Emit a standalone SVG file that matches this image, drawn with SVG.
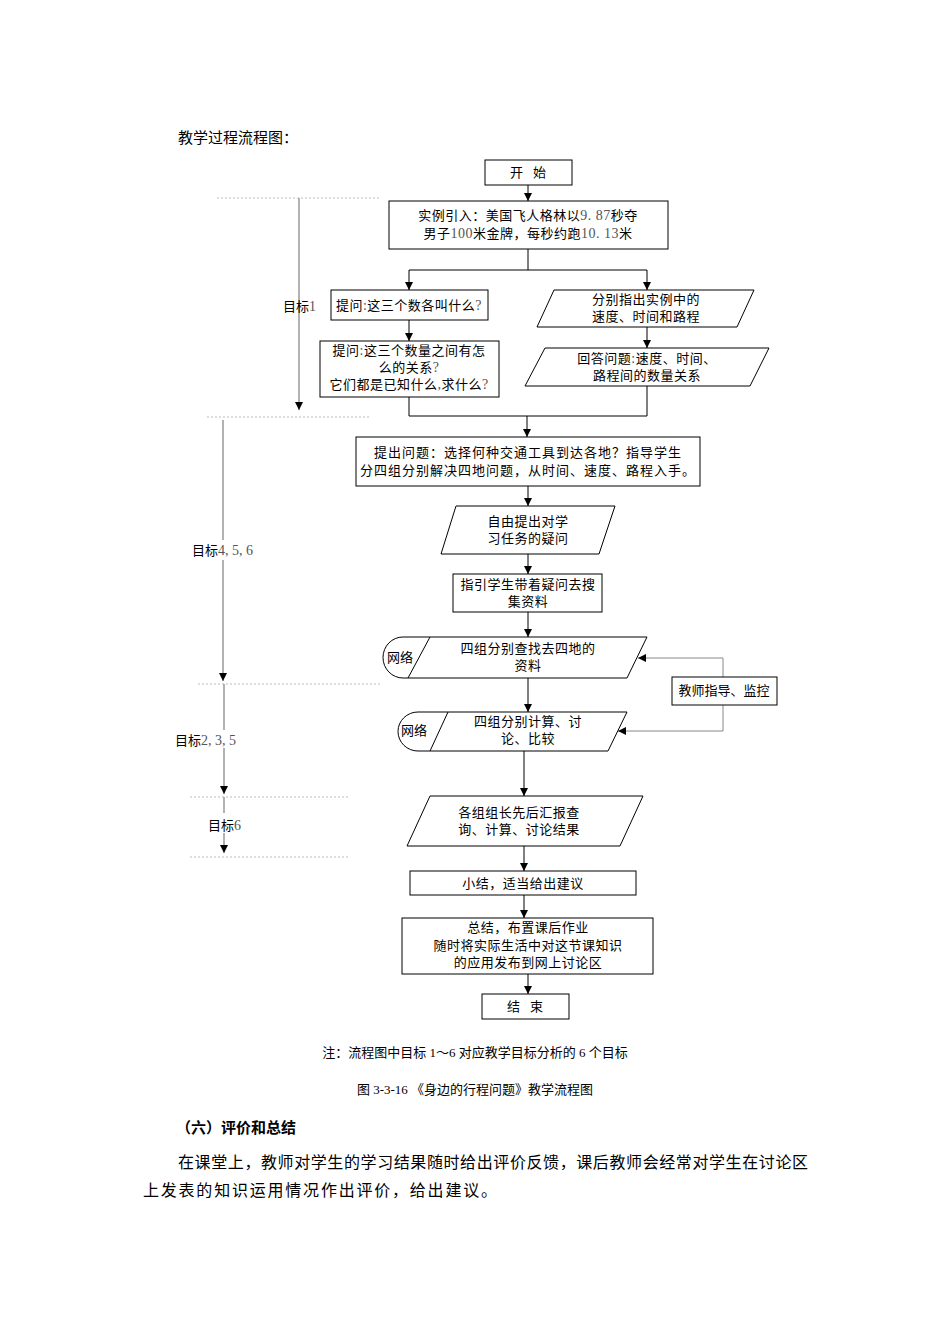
<svg xmlns="http://www.w3.org/2000/svg" width="950" height="1344" viewBox="0 0 950 1344">
<defs>
<marker id="ah" viewBox="0 0 10 10" refX="10" refY="5" markerWidth="8" markerHeight="8" markerUnits="userSpaceOnUse" orient="auto">
<path d="M0,0 L10,5 L0,10 Z" fill="#000"/>
</marker>
<style>
.n{fill:#fff;stroke:#000;stroke-width:1}
.t{font-family:"Noto Sans CJK SC","Liberation Sans",sans-serif;font-size:13px;fill:#000;text-anchor:middle}
.d{font-family:"Liberation Serif",serif;fill:#555;font-size:14px}
.c{fill:none;stroke:#000;stroke-width:1}
.g{fill:none;stroke:#999;stroke-width:1.5}
.dot{fill:none;stroke:#bbb;stroke-width:1;stroke-dasharray:2,2}
.lbl{font-family:"Noto Sans CJK SC","Liberation Sans",sans-serif;font-size:13px;fill:#000}
.body{font-family:"Liberation Serif","Noto Sans CJK SC",serif;fill:#000}
</style>
</defs>
<rect width="950" height="1344" fill="#fff"/>

<text x="178" y="143" class="body" style="font-family:'Noto Sans CJK SC',sans-serif;font-size:15px">教学过程流程图：</text>

<g id="timeline">
<line class="dot" x1="217" y1="198" x2="380" y2="198"/>
<line class="g" x1="299" y1="198" x2="299" y2="410" marker-end="url(#ah)"/>
<text class="lbl" x="283" y="311">目标<tspan class="d">1</tspan></text>
<line class="dot" x1="207" y1="417" x2="370" y2="417"/>
<line class="g" x1="223" y1="420" x2="223" y2="540"/>
<line class="g" x1="223" y1="560" x2="223" y2="681" marker-end="url(#ah)"/>
<text class="lbl" x="192" y="555">目标<tspan class="d">4, 5, 6</tspan></text>
<line class="dot" x1="198" y1="684" x2="380" y2="684"/>
<line class="g" x1="224" y1="684" x2="224" y2="730"/>
<line class="g" x1="224" y1="748" x2="224" y2="794" marker-end="url(#ah)"/>
<text class="lbl" x="175" y="745">目标<tspan class="d">2, 3, 5</tspan></text>
<line class="dot" x1="190" y1="797" x2="350" y2="797"/>
<line class="g" x1="224" y1="797" x2="224" y2="813"/>
<line class="g" x1="224" y1="833" x2="224" y2="853" marker-end="url(#ah)"/>
<text class="lbl" x="208" y="830">目标<tspan class="d">6</tspan></text>
<line class="dot" x1="190" y1="857" x2="350" y2="857"/>
</g>

<g id="connectors">
<line class="c" x1="528" y1="185" x2="528" y2="201" marker-end="url(#ah)"/>
<polyline class="c" points="528,249 528,270"/>
<polyline class="c" points="409,270 647,270"/>
<line class="c" x1="409" y1="270" x2="409" y2="290" marker-end="url(#ah)"/>
<line class="c" x1="647" y1="270" x2="647" y2="290" marker-end="url(#ah)"/>
<line class="c" x1="409" y1="320" x2="409" y2="341" marker-end="url(#ah)"/>
<line class="c" x1="647" y1="327" x2="647" y2="348" marker-end="url(#ah)"/>
<polyline class="c" points="409,397 409,416 647,416 647,386"/>
<line class="c" x1="527" y1="416" x2="527" y2="437" marker-end="url(#ah)"/>
<line class="c" x1="528" y1="486" x2="528" y2="506" marker-end="url(#ah)"/>
<line class="c" x1="528" y1="554" x2="528" y2="574" marker-end="url(#ah)"/>
<line class="c" x1="528" y1="612" x2="528" y2="637" marker-end="url(#ah)"/>
<line class="c" x1="528" y1="678" x2="528" y2="712" marker-end="url(#ah)"/>
<polyline class="c" points="723,677 723,658 638,658" style="stroke:#888" marker-end="url(#ah)"/>
<polyline class="c" points="723,705 723,731 618,731" style="stroke:#888" marker-end="url(#ah)"/>
<line class="c" x1="524" y1="751" x2="524" y2="796" marker-end="url(#ah)"/>
<line class="c" x1="524" y1="846" x2="524" y2="871" marker-end="url(#ah)"/>
<line class="c" x1="524" y1="895" x2="524" y2="918" marker-end="url(#ah)"/>
<line class="c" x1="528" y1="974" x2="528" y2="994" marker-end="url(#ah)"/>
</g>

<g id="start">
<rect class="n" x="485" y="160" width="87" height="25"/>
<text class="t" x="528" y="177" letter-spacing="10" dx="5">开始</text>
</g>

<g id="intro">
<rect class="n" x="389" y="201" width="279" height="48"/>
<text class="t" x="528" y="220" letter-spacing="0.5">实例引入：美国飞人格林以<tspan class="d">9. 87</tspan>秒夺</text>
<text class="t" x="528" y="238" letter-spacing="0.5">男子<tspan class="d">100</tspan>米金牌，每秒约跑<tspan class="d">10. 13</tspan>米</text>
</g>

<g id="q1">
<rect class="n" x="331" y="290" width="157" height="30"/>
<text class="t" x="409" y="310" letter-spacing="0.5">提问<tspan class="d">:</tspan>这三个数各叫什么<tspan class="d">?</tspan></text>
</g>

<g id="q2">
<rect class="n" x="320" y="341" width="179" height="56"/>
<text class="t" x="409" y="355" letter-spacing="0.5">提问<tspan class="d">:</tspan>这三个数量之间有怎</text>
<text class="t" x="409" y="372" letter-spacing="0.5">么的关系<tspan class="d">?</tspan></text>
<text class="t" x="409" y="389" letter-spacing="0.5">它们都是已知什么<tspan class="d">,</tspan>求什么<tspan class="d">?</tspan></text>
</g>

<g id="p1">
<polygon class="n" points="554,290 754,290 737,327 537,327"/>
<text class="t" x="646" y="304" letter-spacing="0.5">分别指出实例中的</text>
<text class="t" x="646" y="321" letter-spacing="0.5">速度、时间和路程</text>
</g>

<g id="p2">
<polygon class="n" points="545,348 769,348 750,386 525,386"/>
<text class="t" x="647" y="363" letter-spacing="0.5">回答问题<tspan class="d">:</tspan>速度、时间、</text>
<text class="t" x="647" y="380" letter-spacing="0.5">路程间的数量关系</text>
</g>

<g id="problem">
<rect class="n" x="356" y="437" width="344" height="49"/>
<text class="t" x="528" y="457" letter-spacing="1">提出问题：选择何种交通工具到达各地？指导学生</text>
<text class="t" x="528" y="475" letter-spacing="1">分四组分别解决四地问题，从时间、速度、路程入手。</text>
</g>

<g id="p3">
<polygon class="n" points="456,506 615,506 599,554 441,554"/>
<text class="t" x="528" y="526" letter-spacing="0.5">自由提出对学</text>
<text class="t" x="528" y="543" letter-spacing="0.5">习任务的疑问</text>
</g>

<g id="guide">
<rect class="n" x="453" y="574" width="149" height="38"/>
<text class="t" x="528" y="589" letter-spacing="0.5">指引学生带着疑问去搜</text>
<text class="t" x="528" y="606" letter-spacing="0.5">集资料</text>
</g>

<g id="net1">
<path class="n" d="M403,637 L647,637 L627,678 L403,678 A20,20.5 0 0 1 403,637 Z"/>
<line class="c" x1="430" y1="637" x2="408" y2="678"/>
<text class="t" x="400" y="662">网络</text>
<text class="t" x="528" y="653" letter-spacing="0.5">四组分别查找去四地的</text>
<text class="t" x="528" y="670" letter-spacing="0.5">资料</text>
</g>

<g id="teacher">
<rect class="n" x="672" y="677" width="105" height="28"/>
<text class="t" x="724" y="695">教师指导、监控</text>
</g>

<g id="net2">
<path class="n" d="M418,712 L627,712 L608,751 L418,751 A20,19.5 0 0 1 418,712 Z"/>
<line class="c" x1="448" y1="712" x2="430" y2="751"/>
<text class="t" x="414" y="735">网络</text>
<text class="t" x="528" y="726" letter-spacing="0.5">四组分别计算、讨</text>
<text class="t" x="528" y="743" letter-spacing="0.5">论、比较</text>
</g>

<g id="report">
<polygon class="n" points="430,796 643,796 620,846 407,846"/>
<text class="t" x="519" y="817" letter-spacing="0.5">各组组长先后汇报查</text>
<text class="t" x="519" y="834" letter-spacing="0.5">询、计算、讨论结果</text>
</g>

<g id="summary1">
<rect class="n" x="410" y="871" width="226" height="24"/>
<text class="t" x="523" y="888" letter-spacing="0.5">小结，适当给出建议</text>
</g>

<g id="summary2">
<rect class="n" x="402" y="918" width="251" height="56"/>
<text class="t" x="528" y="932" letter-spacing="0.5">总结，布置课后作业</text>
<text class="t" x="528" y="950" letter-spacing="0.5">随时将实际生活中对这节课知识</text>
<text class="t" x="528" y="967" letter-spacing="0.5">的应用发布到网上讨论区</text>
</g>

<g id="end">
<rect class="n" x="482" y="994" width="87" height="25"/>
<text class="t" x="525" y="1011" letter-spacing="10" dx="5">结束</text>
</g>

<text class="body" x="475" y="1057" font-size="13" text-anchor="middle">注：流程图中目标 1～6 对应教学目标分析的 6 个目标</text>
<text class="body" x="475" y="1094" font-size="13" text-anchor="middle">图 3-3-16 《身边的行程问题》教学流程图</text>
<text x="176" y="1133" style="font-family:'Noto Sans CJK SC',sans-serif;font-size:15px;font-weight:bold">（六）评价和总结</text>
<text class="body" x="178" y="1168" font-size="16" textLength="630" lengthAdjust="spacing">在课堂上，教师对学生的学习结果随时给出评价反馈，课后教师会经常对学生在讨论区</text>
<text class="body" x="143" y="1196" font-size="16" textLength="354" lengthAdjust="spacing">上发表的知识运用情况作出评价，给出建议。</text>
</svg>
